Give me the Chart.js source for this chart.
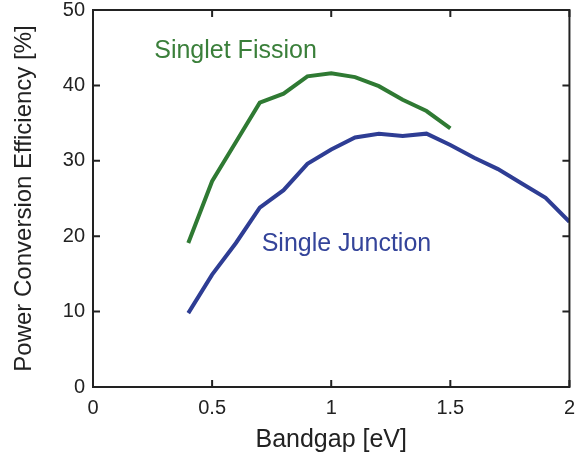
<!DOCTYPE html>
<html>
<head>
<meta charset="utf-8">
<script src="https://cdn.jsdelivr.net/npm/chart.js@4"></script>
<style>
  html, body { margin: 0; padding: 0; background: #fff; }
  #wrap { width: 584px; height: 461px; }
</style>
</head>
<body>
<div id="wrap"><canvas id="chart" width="584" height="461"></canvas></div>
<script>
/* ---------- data ---------- */
const fissionGap = [0.4, 0.5, 0.6, 0.7, 0.8, 0.9, 1.0, 1.1, 1.2, 1.3, 1.4, 1.5];
const fissionEff = [19.1, 27.3, 32.5, 37.7, 38.9, 41.2, 41.6, 41.1, 39.9, 38.1, 36.6, 34.3];

const junctionGap = [0.4, 0.5, 0.6, 0.7, 0.8, 0.9, 1.0, 1.1, 1.2, 1.3, 1.4, 1.5, 1.6, 1.7, 1.8, 1.9, 2.0];
const junctionEff = [9.8, 14.9, 19.1, 23.8, 26.1, 29.6, 31.5, 33.1, 33.6, 33.3, 33.6, 32.1, 30.4, 28.9, 27.0, 25.1, 21.9];

const xTicks = [0, 0.5, 1, 1.5, 2];
const yTicks = [0, 10, 20, 30, 40, 50];

const GREEN = "#2f7a33";
const BLUE = "#2e3d94";
const FONT = "'Liberation Sans', Arial, sans-serif";

function toPoints(xs, ys) {
    return xs.map((x, i) => ({ x: x, y: ys[i] }));
}

/* ---------- frame, inward ticks, labels ---------- */
const framePlugin = {
    id: "frame",
    afterDraw(chart) {
        const c = chart.ctx;
        const a = chart.chartArea;
        const xs = chart.scales.x;
        const ys = chart.scales.y;
        const t = 7;
        c.save();
        c.strokeStyle = "#222";
        c.lineWidth = 2;
        c.strokeRect(a.left, a.top, a.right - a.left, a.bottom - a.top);
        c.beginPath();
        xTicks.forEach(v => {
            const px = xs.getPixelForValue(v);
            c.moveTo(px, a.bottom); c.lineTo(px, a.bottom - t);
            c.moveTo(px, a.top); c.lineTo(px, a.top + t);
        });
        yTicks.forEach(v => {
            const py = ys.getPixelForValue(v);
            c.moveTo(a.left, py); c.lineTo(a.left + t, py);
            c.moveTo(a.right, py); c.lineTo(a.right - t, py);
        });
        c.stroke();

        // curve labels
        c.font = "25px " + FONT;
        c.textBaseline = "middle";
        c.textAlign = "left";
        c.fillStyle = "#3a7f3a";
        c.fillText("Singlet Fission", xs.getPixelForValue(0.257), ys.getPixelForValue(44.6));
        c.fillStyle = "#34449a";
        c.fillText("Single Junction", xs.getPixelForValue(0.708), ys.getPixelForValue(19.0));
        c.restore();
    }
};

new Chart(document.getElementById("chart"), {
    type: "line",
    data: {
        datasets: [
            {
                label: "Singlet Fission",
                data: toPoints(fissionGap, fissionEff),
                borderColor: GREEN,
                borderWidth: 4,
                pointRadius: 0,
                tension: 0,
                borderCapStyle: "butt"
            },
            {
                label: "Single Junction",
                data: toPoints(junctionGap, junctionEff),
                borderColor: BLUE,
                borderWidth: 4,
                pointRadius: 0,
                tension: 0,
                borderCapStyle: "butt"
            }
        ]
    },
    options: {
        responsive: false,
        animation: false,
        layout: { padding: { top: 0, right: 7, left: 0, bottom: 0 } },
        plugins: {
            legend: { display: false },
            tooltip: { enabled: false }
        },
        scales: {
            x: {
                type: "linear",
                min: 0, max: 2,
                afterFit(s) { s.height = 74; },
                afterBuildTicks(s) { s.ticks = xTicks.map(v => ({ value: v })); },
                grid: { display: false, drawTicks: false },
                border: { display: false },
                ticks: {
                    color: "#222",
                    padding: 9,
                    font: { family: FONT, size: 20 },
                    callback: v => String(v)
                },
                title: {
                    display: true,
                    text: "Bandgap [eV]",
                    color: "#222",
                    font: { family: FONT, size: 25 },
                    padding: { top: 0, bottom: 6 }
                }
            },
            y: {
                min: 0, max: 50,
                afterFit(s) { s.width = 93; s.paddingTop = 10; },
                afterBuildTicks(s) { s.ticks = yTicks.map(v => ({ value: v })); },
                grid: { display: false, drawTicks: false },
                border: { display: false },
                ticks: {
                    color: "#222",
                    padding: 8,
                    font: { family: FONT, size: 20 }
                },
                title: {
                    display: true,
                    text: "Power Conversion Efficiency [%]",
                    color: "#222",
                    font: { family: FONT, size: 24 },
                    padding: { top: 10, bottom: 0 }
                }
            }
        }
    },
    plugins: [framePlugin]
});
</script>
</body>
</html>
